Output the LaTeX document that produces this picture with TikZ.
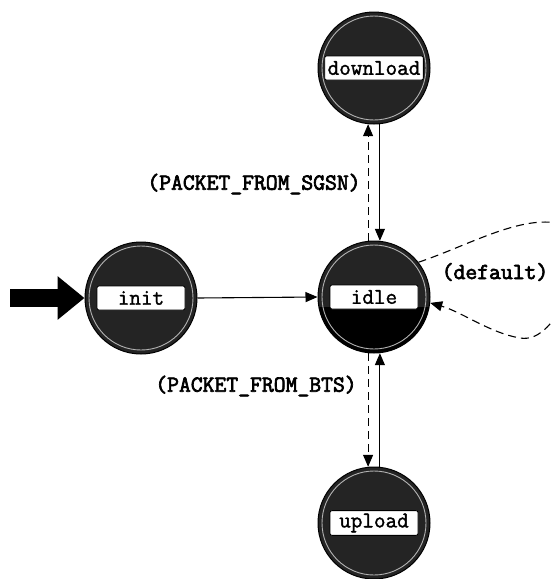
\documentclass[tikz,border=0pt]{standalone}
\usepackage{fontspec}
\newfontfamily\statefont[FakeBold=1.5]{Latin Modern Mono}
\newfontfamily\condfont[FakeBold=3]{Latin Modern Mono}
\usetikzlibrary{arrows.meta}
\begin{document}
\begin{tikzpicture}[x=1pt,y=-1pt,
  state/.style={circle, minimum size=112pt, inner sep=0pt, draw=black, line width=1pt, fill=black!86,
    path picture={\draw[gray!60, line width=0.9pt] (path picture bounding box.center) circle (52pt);}},
  darkbase/.style={path picture={
    \fill[black] ([yshift=-10pt]path picture bounding box.center) rectangle (path picture bounding box.south east);
    \fill[black] ([yshift=-10pt]path picture bounding box.center) rectangle (path picture bounding box.south west);
    \draw[gray!60, line width=0.9pt] (path picture bounding box.center) circle (52pt);}},
  tag/.style={draw=black, fill=white, rounded corners=2pt, line width=0.8pt, minimum width=88pt,
    minimum height=24pt, inner sep=3pt, font=\statefont\fontsize{22.5}{22.5}\selectfont},
  cond/.style={font=\condfont\fontsize{23}{23}\selectfont},
  link/.style={-{Triangle[length=12pt,width=10pt]}, line width=1.1pt},
  dlink/.style={link, dash pattern=on 8pt off 5pt},
]
\useasboundingbox (0,0) rectangle (550,579);

% states
\node[state] (download) at (374,68) {};
\node[state, darkbase] (idle) at (374,297) {};
\node[state] (init) at (141,298) {};
\node[state] (upload) at (374,523) {};

% state names
\node[tag] (downloadL) at (download) {download};
\node[tag] (idleL) at (idle) {idle};
\node[tag] (initL) at (init) {init};
\node[tag] (uploadL) at (upload) {upload};

% initial-state marker
\coordinate (entry) at (10,298);
\draw[line width=18pt, -{Triangle[length=27pt,width=42pt]}] (entry) -- (init.west);

% transitions
\draw[link] (init.east) -- (idle.west);

\draw[dlink] (idle.96) -- (download.264);
\draw[link] (download.276) -- (idle.84);

\draw[dlink] (idle.264) -- (upload.96);
\draw[link] (upload.84) -- (idle.276);

\draw[dlink] (idle.38) .. controls (470,245) and (525,212) .. (565,225)
  .. controls (590,250) and (560,345) .. (520,338)
  .. controls (490,333) and (462,312) .. (idle.-6);

% transition conditions
\node[cond] (sgsn) at (254,184) {(PACKET\_FROM\_SGSN)};
\node[cond] (bts) at (256,386) {(PACKET\_FROM\_BTS)};
\node[cond] (dflt) at (495,272) {(default)};
\end{tikzpicture}
\end{document}
